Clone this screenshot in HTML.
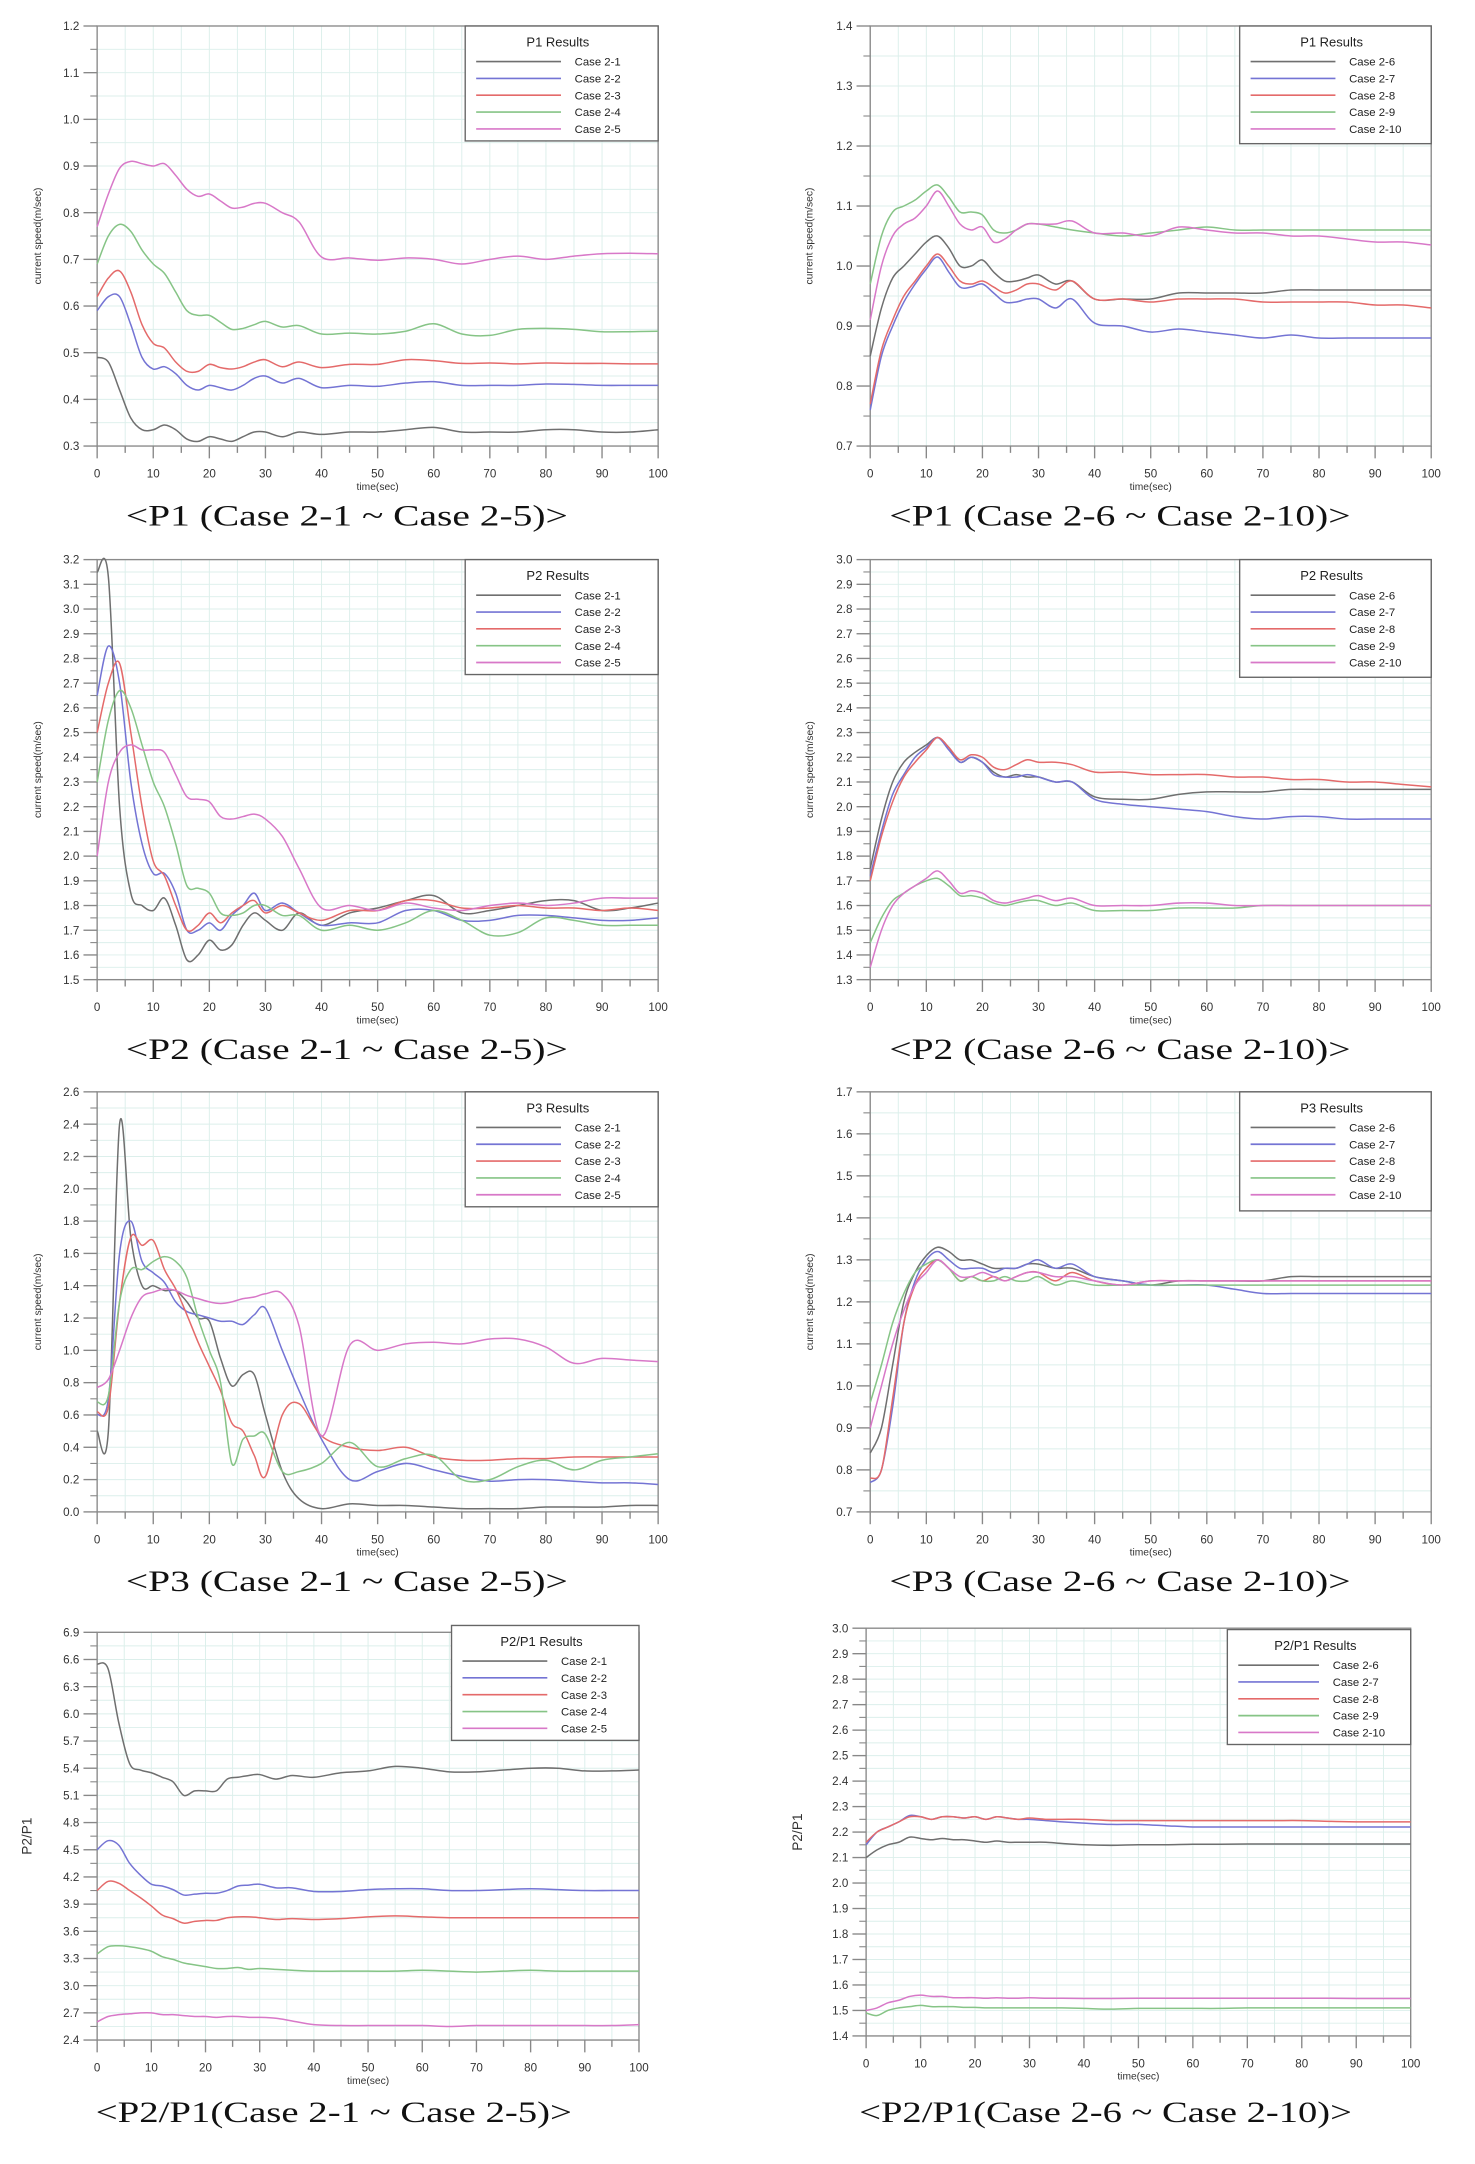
<!DOCTYPE html>
<html><head><meta charset="utf-8"><style>
html,body{margin:0;padding:0;background:#fff;}
svg{display:block;}
</style></head><body>
<svg id="fig" width="1475" height="2164" viewBox="0 0 1078 1581.6" preserveAspectRatio="none" xmlns="http://www.w3.org/2000/svg"></svg>
<script>
const times=[0,2,4,6,8,10,12,14,16,18,20,22,24,26,28,30,33,36,40,45,50,55,60,65,70,75,80,85,90,95,100];
const xTickLabels=["0","10","20","30","40","50","60","70","80","90","100"];
const labelsA=["Case 2-1","Case 2-2","Case 2-3","Case 2-4","Case 2-5"];
const labelsB=["Case 2-6","Case 2-7","Case 2-8","Case 2-9","Case 2-10"];

// Chart 1: P1 cases 2-1..2-5
const c1YTicks=["0.3","0.4","0.5","0.6","0.7","0.8","0.9","1.0","1.1","1.2"];
const c1s1=[0.49,0.48,0.42,0.36,0.335,0.335,0.345,0.335,0.315,0.31,0.32,0.315,0.31,0.32,0.33,0.33,0.32,0.33,0.325,0.33,0.33,0.335,0.34,0.33,0.33,0.33,0.335,0.335,0.33,0.33,0.335];
const c1s2=[0.59,0.62,0.62,0.56,0.49,0.465,0.47,0.455,0.43,0.42,0.43,0.425,0.42,0.43,0.445,0.45,0.435,0.445,0.425,0.43,0.428,0.435,0.438,0.43,0.43,0.43,0.433,0.432,0.43,0.43,0.43];
const c1s3=[0.62,0.66,0.675,0.63,0.56,0.52,0.51,0.48,0.46,0.46,0.475,0.468,0.465,0.47,0.48,0.485,0.47,0.48,0.468,0.475,0.475,0.485,0.483,0.477,0.478,0.476,0.478,0.477,0.477,0.476,0.476];
const c1s4=[0.69,0.75,0.775,0.76,0.72,0.69,0.67,0.63,0.59,0.58,0.58,0.565,0.55,0.552,0.56,0.567,0.555,0.558,0.54,0.542,0.54,0.546,0.562,0.54,0.537,0.55,0.552,0.55,0.545,0.545,0.546];
const c1s5=[0.77,0.84,0.895,0.91,0.905,0.9,0.905,0.88,0.85,0.835,0.84,0.825,0.81,0.812,0.82,0.82,0.8,0.78,0.705,0.703,0.698,0.703,0.7,0.69,0.7,0.707,0.7,0.707,0.712,0.713,0.712];

// Chart 2: P1 cases 2-6..2-10
const c2YTicks=["0.7","0.8","0.9","1.0","1.1","1.2","1.3","1.4"];
const c2s1=[0.85,0.93,0.98,1.0,1.02,1.04,1.05,1.03,1.0,1.0,1.01,0.99,0.975,0.975,0.98,0.985,0.97,0.975,0.945,0.945,0.945,0.955,0.955,0.955,0.955,0.96,0.96,0.96,0.96,0.96,0.96];
const c2s2=[0.76,0.85,0.9,0.94,0.97,0.995,1.015,0.99,0.965,0.965,0.97,0.955,0.94,0.94,0.945,0.945,0.93,0.945,0.905,0.9,0.89,0.895,0.89,0.885,0.88,0.885,0.88,0.88,0.88,0.88,0.88];
const c2s3=[0.77,0.86,0.91,0.95,0.975,1.0,1.02,1.0,0.975,0.97,0.975,0.965,0.955,0.96,0.97,0.97,0.96,0.975,0.945,0.945,0.94,0.945,0.945,0.945,0.94,0.94,0.94,0.94,0.935,0.935,0.93];
const c2s4=[0.97,1.05,1.09,1.1,1.11,1.125,1.135,1.115,1.09,1.09,1.085,1.06,1.055,1.06,1.07,1.07,1.065,1.06,1.055,1.05,1.055,1.06,1.065,1.06,1.06,1.06,1.06,1.06,1.06,1.06,1.06];
const c2s5=[0.91,1.0,1.05,1.07,1.08,1.1,1.125,1.1,1.07,1.06,1.065,1.04,1.045,1.06,1.07,1.07,1.07,1.075,1.055,1.055,1.05,1.065,1.06,1.055,1.055,1.05,1.05,1.045,1.04,1.04,1.035];

// Chart 3: P2 cases 2-1..2-5
const c3YTicks=["1.5","1.6","1.7","1.8","1.9","2.0","2.1","2.2","2.3","2.4","2.5","2.6","2.7","2.8","2.9","3.0","3.1","3.2"];
const c3s1=[3.15,3.13,2.2,1.85,1.8,1.78,1.83,1.72,1.58,1.6,1.66,1.62,1.64,1.72,1.77,1.74,1.7,1.77,1.72,1.77,1.79,1.82,1.84,1.77,1.78,1.8,1.82,1.82,1.78,1.79,1.81];
const c3s2=[2.65,2.85,2.7,2.3,2.05,1.93,1.93,1.85,1.7,1.7,1.73,1.7,1.76,1.8,1.85,1.78,1.81,1.77,1.72,1.73,1.73,1.78,1.78,1.74,1.74,1.76,1.76,1.75,1.74,1.74,1.75];
const c3s3=[2.5,2.7,2.78,2.5,2.2,1.98,1.92,1.8,1.7,1.72,1.77,1.73,1.77,1.8,1.82,1.77,1.8,1.77,1.74,1.78,1.78,1.82,1.82,1.79,1.79,1.8,1.79,1.79,1.78,1.79,1.78];
const c3s4=[2.3,2.55,2.67,2.6,2.45,2.3,2.2,2.05,1.88,1.87,1.85,1.77,1.76,1.77,1.8,1.8,1.76,1.76,1.7,1.72,1.7,1.73,1.78,1.74,1.68,1.69,1.75,1.74,1.72,1.72,1.72];
const c3s5=[2.0,2.3,2.42,2.45,2.43,2.43,2.42,2.33,2.24,2.23,2.22,2.16,2.15,2.16,2.17,2.15,2.08,1.95,1.79,1.8,1.78,1.81,1.79,1.78,1.8,1.81,1.8,1.81,1.83,1.83,1.83];

// Chart 4: P2 cases 2-6..2-10
const c4YTicks=["1.3","1.4","1.5","1.6","1.7","1.8","1.9","2.0","2.1","2.2","2.3","2.4","2.5","2.6","2.7","2.8","2.9","3.0"];
const c4s1=[1.75,1.95,2.1,2.18,2.22,2.25,2.28,2.24,2.18,2.2,2.18,2.14,2.12,2.13,2.12,2.12,2.1,2.1,2.04,2.03,2.03,2.05,2.06,2.06,2.06,2.07,2.07,2.07,2.07,2.07,2.07];
const c4s2=[1.72,1.9,2.05,2.13,2.2,2.24,2.28,2.23,2.18,2.2,2.18,2.13,2.12,2.12,2.13,2.12,2.1,2.1,2.03,2.01,2.0,1.99,1.98,1.96,1.95,1.96,1.96,1.95,1.95,1.95,1.95];
const c4s3=[1.7,1.88,2.02,2.12,2.18,2.23,2.28,2.24,2.19,2.21,2.2,2.16,2.15,2.17,2.19,2.18,2.18,2.17,2.14,2.14,2.13,2.13,2.13,2.12,2.12,2.11,2.11,2.1,2.1,2.09,2.08];
const c4s4=[1.45,1.55,1.62,1.65,1.68,1.7,1.71,1.68,1.64,1.64,1.63,1.61,1.6,1.61,1.62,1.62,1.6,1.61,1.58,1.58,1.58,1.59,1.59,1.59,1.6,1.6,1.6,1.6,1.6,1.6,1.6];
const c4s5=[1.35,1.5,1.6,1.65,1.68,1.71,1.74,1.7,1.65,1.66,1.65,1.62,1.61,1.62,1.63,1.64,1.62,1.63,1.6,1.6,1.6,1.61,1.61,1.6,1.6,1.6,1.6,1.6,1.6,1.6,1.6];

// Chart 5: P3 cases 2-1..2-5
const c5YTicks=["0.0","0.2","0.4","0.6","0.8","1.0","1.2","1.4","1.6","1.8","2.0","2.2","2.4","2.6"];
const c5s1=[0.5,0.5,2.4,1.7,1.4,1.4,1.37,1.37,1.3,1.2,1.18,0.95,0.78,0.85,0.85,0.6,0.25,0.08,0.02,0.05,0.04,0.04,0.03,0.02,0.02,0.02,0.03,0.03,0.03,0.04,0.04];
const c5s2=[0.6,0.7,1.6,1.8,1.55,1.48,1.42,1.3,1.24,1.22,1.2,1.18,1.18,1.16,1.22,1.26,1.0,0.75,0.45,0.2,0.25,0.3,0.26,0.22,0.19,0.2,0.2,0.19,0.18,0.18,0.17];
const c5s3=[0.62,0.65,1.3,1.7,1.65,1.68,1.5,1.38,1.22,1.05,0.9,0.75,0.55,0.5,0.35,0.22,0.6,0.67,0.47,0.4,0.38,0.4,0.34,0.32,0.32,0.33,0.33,0.34,0.34,0.34,0.34];
const c5s4=[0.68,0.72,1.3,1.5,1.5,1.55,1.58,1.55,1.45,1.2,1.0,0.8,0.3,0.45,0.47,0.48,0.25,0.25,0.3,0.43,0.28,0.33,0.35,0.2,0.2,0.28,0.32,0.26,0.32,0.34,0.36];
const c5s5=[0.77,0.82,1.0,1.2,1.33,1.36,1.38,1.37,1.34,1.32,1.3,1.29,1.3,1.32,1.33,1.35,1.35,1.15,0.47,1.03,1.0,1.04,1.05,1.04,1.07,1.07,1.02,0.92,0.95,0.94,0.93];

// Chart 6: P3 cases 2-6..2-10
const c6YTicks=["0.7","0.8","0.9","1.0","1.1","1.2","1.3","1.4","1.5","1.6","1.7"];
const c6s1=[0.84,0.9,1.05,1.2,1.27,1.31,1.33,1.32,1.3,1.3,1.29,1.28,1.28,1.28,1.29,1.29,1.28,1.28,1.26,1.25,1.24,1.25,1.25,1.25,1.25,1.26,1.26,1.26,1.26,1.26,1.26];
const c6s2=[0.77,0.8,0.95,1.15,1.25,1.3,1.32,1.3,1.28,1.28,1.28,1.27,1.28,1.28,1.29,1.3,1.28,1.29,1.26,1.25,1.24,1.24,1.24,1.23,1.22,1.22,1.22,1.22,1.22,1.22,1.22];
const c6s3=[0.78,0.8,0.97,1.15,1.24,1.28,1.3,1.28,1.25,1.26,1.25,1.26,1.25,1.26,1.27,1.27,1.25,1.27,1.25,1.24,1.25,1.25,1.25,1.25,1.25,1.25,1.25,1.25,1.25,1.25,1.25];
const c6s4=[0.96,1.05,1.15,1.22,1.27,1.29,1.3,1.28,1.25,1.26,1.25,1.25,1.26,1.25,1.25,1.26,1.24,1.25,1.24,1.24,1.24,1.24,1.24,1.24,1.24,1.24,1.24,1.24,1.24,1.24,1.24];
const c6s5=[0.9,1.0,1.1,1.18,1.24,1.27,1.3,1.28,1.26,1.26,1.27,1.26,1.25,1.26,1.27,1.27,1.26,1.26,1.25,1.24,1.25,1.25,1.25,1.25,1.25,1.25,1.25,1.25,1.25,1.25,1.25];

// Chart 7: P2/P1 cases 2-1..2-5
const c7YTicks=["2.4","2.7","3.0","3.3","3.6","3.9","4.2","4.5","4.8","5.1","5.4","5.7","6.0","6.3","6.6","6.9"];
const c7s1=[6.55,6.5,5.9,5.45,5.38,5.35,5.3,5.25,5.1,5.15,5.15,5.15,5.28,5.3,5.32,5.33,5.28,5.32,5.3,5.35,5.37,5.42,5.4,5.36,5.36,5.38,5.4,5.4,5.37,5.37,5.38];
const c7s2=[4.5,4.6,4.55,4.35,4.22,4.12,4.1,4.06,4.0,4.01,4.02,4.02,4.05,4.1,4.11,4.12,4.08,4.08,4.04,4.04,4.06,4.07,4.07,4.05,4.05,4.06,4.07,4.06,4.05,4.05,4.05];
const c7s3=[4.05,4.15,4.13,4.05,3.97,3.88,3.78,3.74,3.69,3.71,3.72,3.72,3.75,3.76,3.76,3.75,3.73,3.74,3.73,3.74,3.76,3.77,3.76,3.75,3.75,3.75,3.75,3.75,3.75,3.75,3.75];
const c7s4=[3.35,3.43,3.44,3.43,3.41,3.38,3.32,3.29,3.25,3.23,3.21,3.19,3.19,3.2,3.18,3.19,3.18,3.17,3.16,3.16,3.16,3.16,3.17,3.16,3.15,3.16,3.17,3.16,3.16,3.16,3.16];
const c7s5=[2.6,2.66,2.68,2.69,2.7,2.7,2.68,2.68,2.67,2.66,2.66,2.65,2.66,2.66,2.65,2.65,2.64,2.61,2.57,2.56,2.56,2.56,2.56,2.55,2.56,2.56,2.56,2.56,2.56,2.56,2.57];

// Chart 8: P2/P1 cases 2-6..2-10
const c8YTicks=["1.4","1.5","1.6","1.7","1.8","1.9","2.0","2.1","2.2","2.3","2.4","2.5","2.6","2.7","2.8","2.9","3.0"];
const c8s1=[2.1,2.13,2.15,2.16,2.18,2.175,2.17,2.175,2.17,2.17,2.165,2.16,2.165,2.16,2.16,2.16,2.16,2.155,2.15,2.148,2.15,2.15,2.152,2.152,2.153,2.153,2.153,2.153,2.153,2.153,2.153];
const c8s2=[2.15,2.2,2.22,2.24,2.265,2.26,2.25,2.26,2.26,2.255,2.26,2.25,2.26,2.255,2.25,2.25,2.245,2.24,2.235,2.23,2.23,2.225,2.22,2.22,2.22,2.22,2.22,2.22,2.22,2.22,2.22];
const c8s3=[2.16,2.2,2.22,2.24,2.26,2.26,2.25,2.26,2.26,2.255,2.26,2.25,2.26,2.255,2.25,2.255,2.25,2.25,2.25,2.245,2.245,2.245,2.245,2.245,2.245,2.245,2.245,2.242,2.24,2.24,2.24];
const c8s4=[1.49,1.48,1.5,1.51,1.515,1.52,1.515,1.515,1.515,1.512,1.512,1.51,1.51,1.51,1.51,1.51,1.51,1.51,1.508,1.505,1.508,1.508,1.508,1.508,1.51,1.51,1.51,1.51,1.51,1.51,1.51];
const c8s5=[1.5,1.51,1.53,1.54,1.555,1.56,1.555,1.555,1.55,1.55,1.55,1.548,1.55,1.548,1.548,1.55,1.548,1.548,1.547,1.547,1.548,1.548,1.548,1.548,1.548,1.548,1.548,1.548,1.547,1.547,1.547];

const COLORS=["#6f6f6f","#7474d4","#e46a6a","#86c486","#d878c8"];
const svg=document.getElementById('fig');
const NS="http://www.w3.org/2000/svg";
function mk(tag,attrs,parent){const e=document.createElementNS(NS,tag);for(const k in attrs)e.setAttribute(k,attrs[k]);(parent||svg).appendChild(e);return e;}
function smoothPath(pts){let d="M"+pts[0][0].toFixed(2)+","+pts[0][1].toFixed(2);
 for(let i=0;i<pts.length-1;i++){const p0=pts[Math.max(0,i-1)],p1=pts[i],p2=pts[i+1],p3=pts[Math.min(pts.length-1,i+2)];
  const c1x=p1[0]+(p2[0]-p0[0])/6,c1y=p1[1]+(p2[1]-p0[1])/6,c2x=p2[0]-(p3[0]-p1[0])/6,c2y=p2[1]-(p3[1]-p1[1])/6;
  d+=" C"+c1x.toFixed(2)+","+c1y.toFixed(2)+" "+c2x.toFixed(2)+","+c2y.toFixed(2)+" "+p2[0].toFixed(2)+","+p2[1].toFixed(2);}
 return d;}

function drawChart(c){
 const g=mk('g',{});
 
 
 const ymin=parseFloat(c.yticks[0]),ymax=parseFloat(c.yticks[c.yticks.length-1]);
 const X=t=>c.x0+(t/100)*(c.x1-c.x0);
 const Y=v=>c.y1-(v-ymin)/(ymax-ymin)*(c.y1-c.y0);
 const step=(ymax-ymin)/(c.yticks.length-1);
 // grid
 const grid=mk('g',{stroke:"#dcefeb","stroke-width":0.7},g);
 
 
 for(let t=5;t<100;t+=5){mk('line',{x1:X(t),x2:X(t),y1:c.y0,y2:c.y1},grid);}
 for(let i=1;i<(c.yticks.length-1)*2;i++){const v=ymin+i*step/2;mk('line',{x1:c.x0,x2:c.x1,y1:Y(v),y2:Y(v)},grid);}
 // frame
 const fr=mk('rect',{x:c.x0,y:c.y0,width:c.x1-c.x0,height:c.y1-c.y0,fill:"none",stroke:"#8a8a8a","stroke-width":1},g);
 
 
 // y ticks
 c.yticks.forEach((lab,i)=>{const v=ymin+i*step;const y=Y(v);
  mk('line',{x1:c.x0-10,x2:c.x0,y1:y,y2:y,stroke:"#888","stroke-width":1},g);
  if(i<c.yticks.length-1){const ym=Y(v+step/2);mk('line',{x1:c.x0-5,x2:c.x0,y1:ym,y2:ym,stroke:"#888","stroke-width":0.8},g);}
  const tx=mk('text',{x:c.x0-13,y:y+3,"text-anchor":"end","font-size":8.5,fill:"#333","font-family":"Liberation Sans, sans-serif"},g);
  
  
  tx.textContent=lab;});
 // x ticks
 for(let t=0;t<=100;t+=5){mk('line',{x1:X(t),x2:X(t),y1:c.y1,y2:c.y1+(t%10===0?9:5),stroke:"#888","stroke-width":1},g);}
 xTickLabels.forEach((lab,i)=>{const tx=mk('text',{x:X(parseFloat(lab)),y:c.y1+23,"text-anchor":"middle","font-size":8.5,fill:"#333","font-family":"Liberation Sans, sans-serif"},g);
  
  
  tx.textContent=lab;});
 const xt=mk('text',{x:(c.x0+c.x1)/2,y:c.y1+32,"text-anchor":"middle","font-size":7.5,fill:"#333","font-family":"Liberation Sans, sans-serif"},g);
 
 
 xt.textContent="time(sec)";
 const ycx=c.ylabX, ycy=(c.y0+c.y1)/2;
 const yt=mk('text',{x:ycx,y:ycy,"text-anchor":"middle","font-size":c.ylabSize,fill:"#333","font-family":"Liberation Sans, sans-serif",transform:"rotate(-90 "+ycx+" "+ycy+")"},g);
 
 
 yt.textContent=c.ylab;
 // series
 c.series.forEach((arr,si)=>{const pts=arr.map((v,i)=>[X(times[i]),Y(v)]);
  const p=mk('path',{d:smoothPath(pts),fill:"none",stroke:COLORS[si],"stroke-width":1.1},g);
  
  });
 // legend
 const L=c.leg;
 const lg=mk('g',{},g);
 
 
 mk('rect',{x:L.x,y:L.y,width:L.w,height:L.h,fill:"#fff",stroke:"#666","stroke-width":1},lg);
 const lt=mk('text',{x:L.x+L.w*0.48,y:L.y+15,"text-anchor":"middle","font-size":9.5,fill:"#222","font-family":"Liberation Sans, sans-serif"},lg);
 
 
 lt.textContent=c.legTitle;
 c.labels.forEach((lab,i)=>{const y=L.y+26+i*12.3;
  const ln=mk('line',{x1:L.x+8,x2:L.x+L.lineEnd,y1:y,y2:y,stroke:COLORS[i],"stroke-width":1.2},lg);
  
  
  const tx=mk('text',{x:L.x+L.lineEnd+10,y:y+3,"font-size":8.3,fill:"#222","font-family":"Liberation Sans, sans-serif"},lg);
  
  
  tx.textContent=lab;});
 // caption
 const cap=mk('text',{x:c.capX0,y:c.capY,textLength:c.capW,lengthAdjust:"spacingAndGlyphs","font-size":22,fill:"#111","font-family":"Liberation Serif, Noto Serif CJK SC, serif"},g);
 
 
 cap.textContent=c.caption;
}

const Lx=71,Lx1=481,Rx=636,Rx1=1046;
drawChart({id:"chart-p1-left",x0:Lx,x1:Lx1,y0:19,y1:326,yticks:c1YTicks,series:[c1s1,c1s2,c1s3,c1s4,c1s5],labels:labelsA,legTitle:"P1 Results",leg:{x:340,y:19,w:141,h:84,lineEnd:70},ylab:"current speed(m/sec)",ylabX:30,ylabSize:7.5,caption:"<P1 (Case 2-1 ~ Case 2-5)>",capX0:92,capW:323,capY:384});
drawChart({id:"chart-p1-right",x0:Rx,x1:Rx1,y0:19,y1:326,yticks:c2YTicks,series:[c2s1,c2s2,c2s3,c2s4,c2s5],labels:labelsB,legTitle:"P1 Results",leg:{x:906,y:19,w:140,h:86,lineEnd:70},ylab:"current speed(m/sec)",ylabX:594,ylabSize:7.5,caption:"<P1 (Case 2-6 ~ Case 2-10)>",capX0:650,capW:337,capY:384});
drawChart({id:"chart-p2-left",x0:Lx,x1:Lx1,y0:409,y1:716,yticks:c3YTicks,series:[c3s1,c3s2,c3s3,c3s4,c3s5],labels:labelsA,legTitle:"P2 Results",leg:{x:340,y:409,w:141,h:84,lineEnd:70},ylab:"current speed(m/sec)",ylabX:30,ylabSize:7.5,caption:"<P2 (Case 2-1 ~ Case 2-5)>",capX0:92,capW:323,capY:774});
drawChart({id:"chart-p2-right",x0:Rx,x1:Rx1,y0:409,y1:716,yticks:c4YTicks,series:[c4s1,c4s2,c4s3,c4s4,c4s5],labels:labelsB,legTitle:"P2 Results",leg:{x:906,y:409,w:140,h:86,lineEnd:70},ylab:"current speed(m/sec)",ylabX:594,ylabSize:7.5,caption:"<P2 (Case 2-6 ~ Case 2-10)>",capX0:650,capW:337,capY:774});
drawChart({id:"chart-p3-left",x0:Lx,x1:Lx1,y0:798,y1:1105,yticks:c5YTicks,series:[c5s1,c5s2,c5s3,c5s4,c5s5],labels:labelsA,legTitle:"P3 Results",leg:{x:340,y:798,w:141,h:84,lineEnd:70},ylab:"current speed(m/sec)",ylabX:30,ylabSize:7.5,caption:"<P3 (Case 2-1 ~ Case 2-5)>",capX0:92,capW:323,capY:1163});
drawChart({id:"chart-p3-right",x0:Rx,x1:Rx1,y0:798,y1:1105,yticks:c6YTicks,series:[c6s1,c6s2,c6s3,c6s4,c6s5],labels:labelsB,legTitle:"P3 Results",leg:{x:906,y:798,w:140,h:87,lineEnd:70},ylab:"current speed(m/sec)",ylabX:594,ylabSize:7.5,caption:"<P3 (Case 2-6 ~ Case 2-10)>",capX0:650,capW:337,capY:1163});
drawChart({id:"chart-p2p1-left",x0:71,x1:467,y0:1193,y1:1491,yticks:c7YTicks,series:[c7s1,c7s2,c7s3,c7s4,c7s5],labels:labelsA,legTitle:"P2/P1 Results",leg:{x:330,y:1188,w:137,h:84,lineEnd:70},ylab:"P2/P1",ylabX:23,ylabSize:10,caption:"<P2/P1(Case 2-1 ~ Case 2-5)>",capX0:70,capW:348,capY:1551});
drawChart({id:"chart-p2p1-right",x0:633,x1:1031,y0:1190,y1:1488,yticks:c8YTicks,series:[c8s1,c8s2,c8s3,c8s4,c8s5],labels:labelsB,legTitle:"P2/P1 Results",leg:{x:897,y:1191,w:134,h:84,lineEnd:67},ylab:"P2/P1",ylabX:586,ylabSize:10,caption:"<P2/P1(Case 2-6 ~ Case 2-10)>",capX0:628,capW:360,capY:1551});
</script>
</body></html>
